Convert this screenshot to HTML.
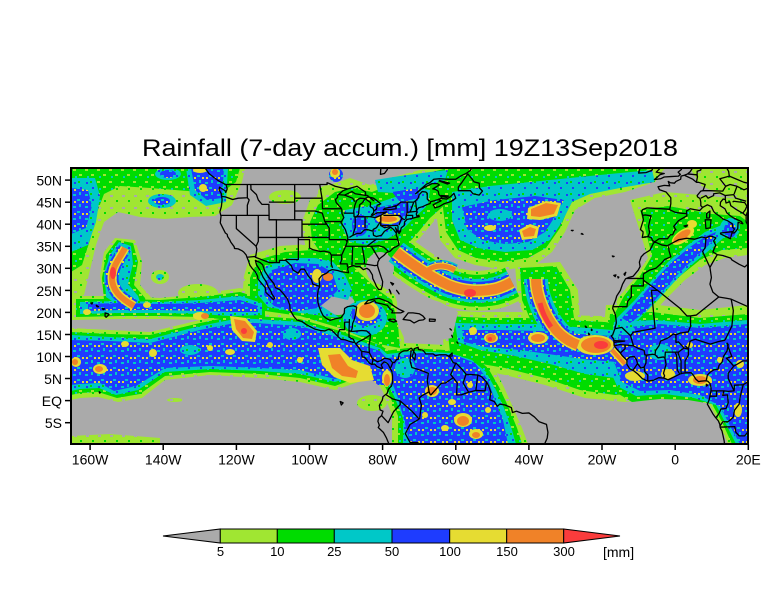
<!DOCTYPE html>
<html><head><meta charset="utf-8">
<style>
html,body{margin:0;padding:0;background:#fff;}
svg{display:block;}
.c polyline,.c polygon{vector-effect:non-scaling-stroke;fill:none;stroke:#000;stroke-width:1.3;stroke-linejoin:round;}
.t{font-family:"Liberation Sans",sans-serif;fill:#000;}
</style></head>
<body>
<svg width="784" height="612" viewBox="0 0 784 612" xmlns="http://www.w3.org/2000/svg">
<defs>
<clipPath id="cp"><rect x="71" y="168" width="677" height="276"/></clipPath>
<pattern id="pB" width="12" height="12" patternUnits="userSpaceOnUse">
<rect width="12" height="12" fill="#1e3cff"/>
<rect x="1" y="2" width="3" height="2" fill="#00c8c8"/>
<rect x="7" y="0" width="2" height="3" fill="#00c8c8"/>
<rect x="5" y="7" width="3" height="2" fill="#00c8c8"/>
<rect x="10" y="9" width="2" height="2" fill="#e6dc32"/>
<rect x="2" y="9" width="2" height="2" fill="#e6dc32"/>
</pattern>
<pattern id="pG" width="12" height="12" patternUnits="userSpaceOnUse">
<rect width="12" height="12" fill="#00dc00"/>
<rect x="1" y="1" width="3" height="2" fill="#a0e632"/>
<rect x="7" y="6" width="3" height="2" fill="#a0e632"/>
<rect x="3" y="8" width="2" height="2" fill="#00c8c8"/>
</pattern>
<pattern id="pC" width="12" height="12" patternUnits="userSpaceOnUse">
<rect width="12" height="12" fill="#00c8c8"/>
<rect x="2" y="2" width="2" height="2" fill="#1e3cff"/>
<rect x="8" y="7" width="2" height="2" fill="#1e3cff"/>
<rect x="6" y="1" width="2" height="2" fill="#00dc00"/>
</pattern>
<pattern id="pL" width="12" height="12" patternUnits="userSpaceOnUse">
<rect width="12" height="12" fill="#a0e632"/>
<rect x="2" y="3" width="3" height="2" fill="#aaaaaa"/>
<rect x="8" y="8" width="2" height="2" fill="#00dc00"/>
</pattern>
</defs>
<rect width="784" height="612" fill="#fff"/>
<text class="t" x="142" y="156" font-size="24" textLength="536" lengthAdjust="spacingAndGlyphs">Rainfall (7-day accum.) [mm] 19Z13Sep2018</text>
<g clip-path="url(#cp)">
<rect x="71" y="168" width="677" height="276" fill="#aaaaaa"/>

<!-- LIGHT GREEN -->
<g fill="url(#pL)">
<path d="M71,168 L245,168 L242,182 L232,205 L215,216 L190,217 L165,219 L140,217 L118,212 L104,222 L96,245 L90,270 L84,295 L71,300 Z"/>
<path d="M115,238 L135,240 L142,262 L140,285 L150,296 L155,305 L125,300 L104,296 L100,275 L104,252 Z"/>
<path d="M72,296 L120,296 L160,298 L200,294 L240,288 L270,296 L270,320 L230,324 L200,320 L160,319 L120,319 L72,320 Z"/>
<ellipse cx="160" cy="277" rx="9" ry="7"/>
<ellipse cx="198" cy="293" rx="20" ry="9"/>
<path d="M71,328 L110,330 L150,332 L200,320 L240,312 L300,316 L340,328 L380,342 L405,356 L400,374 L370,378 L335,390 L300,382 L260,378 L210,375 L165,380 L142,398 L118,402 L98,397 L80,398 L71,400 Z"/>
<path d="M250,255 L280,246 L310,244 L330,246 L350,255 L365,268 L380,285 L395,295 L402,320 L405,350 L380,348 L340,330 L300,318 L262,314 L242,300 L244,276 Z"/>
<path d="M310,200 L330,185 L350,178 L370,185 L390,178 L420,170 L450,168 L470,168 L470,190 L455,205 L435,220 L420,238 L405,250 L395,262 L380,270 L360,275 L335,272 L315,262 L305,245 L302,222 Z"/>
<path d="M440,168 L665,168 L655,182 L625,192 L595,198 L575,210 L565,232 L552,252 L535,265 L505,270 L475,265 L455,258 L440,240 L435,205 Z"/>
<path d="M515,265 L560,262 L578,290 L580,320 L590,335 L560,340 L530,330 L518,300 Z"/>
<path d="M440,310 L480,312 L520,312 L560,315 L600,316 L630,318 L655,335 L660,365 L660,398 L625,402 L585,398 L545,385 L505,375 L470,368 L445,360 Z"/>
<path d="M606,305 L650,304 L700,310 L748,305 L748,444 L728,444 L718,420 L708,402 L685,398 L660,397 L630,400 L610,392 L600,370 Z"/>
<path d="M370,348 L405,343 L445,345 L475,350 L492,365 L503,385 L512,405 L522,428 L528,444 L392,444 L392,415 L383,392 L372,372 Z"/>
<path d="M630,200 L665,192 L700,195 L748,200 L748,255 L725,258 L705,265 L685,280 L665,300 L645,322 L622,330 L610,318 L618,298 L635,278 L648,258 L640,232 Z"/>
<path d="M690,168 L748,168 L748,200 L720,195 L700,185 Z"/>
<ellipse cx="372" cy="403" rx="15" ry="8"/>
<path d="M71,436 L110,434 L160,438 L160,444 L71,444 Z"/>
<ellipse cx="175" cy="400" rx="8" ry="2"/>
<ellipse cx="420" cy="322" rx="14" ry="7"/>
<path d="M396,252 C410,263 428,276 448,285 C465,292 480,292 495,289 C503,287 508,284 512,282" stroke="url(#pL)" stroke-width="40" fill="none"/>
<ellipse cx="285" cy="197" rx="16" ry="7"/>
<ellipse cx="330" cy="192" rx="12" ry="7"/>
</g>

<!-- GREEN -->
<g fill="url(#pG)">
<path d="M71,168 L240,168 L236,182 L225,190 L200,192 L175,190 L150,188 L120,186 L104,194 L96,215 L90,240 L82,265 L71,272 Z"/>
<path d="M117,240 L133,243 L138,262 L134,285 L145,298 L148,310 L120,306 L104,300 L102,278 L106,255 Z"/>
<path d="M76,299 L120,299 L160,300 L200,297 L240,292 L265,300 L265,317 L230,320 L200,317 L160,316 L120,316 L76,317 Z"/>
<path d="M71,332 L110,334 L150,335 L200,323 L240,315 L300,319 L340,331 L380,345 L400,358 L395,370 L368,374 L335,386 L300,378 L260,374 L210,372 L165,376 L140,394 L117,398 L98,392 L80,393 L71,395 Z"/>
<path d="M258,260 L285,252 L312,250 L332,252 L348,262 L362,275 L378,290 L392,300 L398,325 L400,348 L378,344 L340,328 L300,316 L265,311 L250,298 L250,278 Z"/>
<path d="M318,205 L335,192 L352,188 L372,192 L392,184 L420,175 L448,168 L465,168 L462,188 L448,202 L430,218 L415,236 L402,250 L390,260 L375,266 L357,268 L338,265 L322,255 L312,240 L310,222 Z"/>
<path d="M445,168 L648,168 L640,178 L612,186 L585,192 L570,204 L560,228 L546,248 L528,258 L502,262 L476,258 L458,250 L446,232 L442,200 Z"/>
<path d="M520,268 L556,266 L570,290 L574,318 L584,332 L560,337 L534,328 L522,300 Z"/>
<path d="M446,316 L485,318 L525,318 L565,320 L605,322 L628,326 L648,340 L652,368 L645,392 L615,395 L580,390 L545,378 L505,368 L470,362 L450,352 Z"/>
<path d="M610,314 L652,312 L700,318 L748,314 L748,444 L732,444 L722,422 L712,404 L688,400 L660,399 L632,402 L612,390 L604,368 Z"/>
<path d="M376,352 L408,348 L445,350 L472,355 L488,368 L499,387 L508,406 L517,428 L522,444 L398,444 L398,416 L389,394 L378,374 Z"/>
<path d="M640,210 L668,206 L690,210 L712,214 L740,216 L748,222 L748,248 L722,250 L700,260 L680,276 L660,296 L642,316 L625,325 L614,315 L624,296 L640,276 L652,256 L646,232 Z"/>
<path d="M396,252 C410,263 428,276 448,285 C465,292 480,292 495,289 C503,287 508,284 512,282" stroke="url(#pG)" stroke-width="32" fill="none"/>
</g>

<!-- GREY CLEARINGS -->
<g fill="#aaaaaa">
<ellipse cx="380" cy="268" rx="14" ry="16"/>
<ellipse cx="338" cy="304" rx="17" ry="11"/>
<path d="M398,292 L420,296 L440,302 L458,312 L452,338 L430,342 L405,340 L396,320 Z"/>
<ellipse cx="700" cy="302" rx="30" ry="6"/>
<ellipse cx="122" cy="222" rx="14" ry="8"/>
</g>

<!-- CYAN -->
<g fill="url(#pC)">
<path d="M71,178 L95,178 L100,196 L96,222 L88,245 L71,252 Z"/>
<ellipse cx="168" cy="174" rx="13" ry="6"/>
<ellipse cx="162" cy="201" rx="14" ry="7"/>
<ellipse cx="160" cy="277" rx="4" ry="3"/>
<path d="M186,168 L228,168 L226,202 L206,206 L190,195 Z"/>
<path d="M119,242 L131,246 L133,264 L128,284 L138,296 L142,308 L118,305 L106,297 L105,277 L109,256 Z"/>
<path d="M80,302 L120,301 L160,302 L200,300 L240,296 L262,303 L262,315 L230,316 L200,314 L160,313 L120,313 L80,314 Z"/>
<path d="M71,335 L110,337 L150,339 L200,326 L240,318 L300,322 L340,334 L380,348 L394,360 L390,368 L365,372 L335,382 L300,374 L260,371 L210,369 L165,372 L138,390 L116,395 L99,388 L80,389 L71,391 Z"/>
<path d="M266,266 L290,258 L315,258 L333,262 L345,275 L352,290 L348,300 L330,296 L320,305 L340,318 L300,313 L268,307 L258,295 L258,280 Z"/>
<path d="M345,210 L372,205 L398,196 L418,188 L430,190 L428,205 L412,220 L400,232 L385,240 L368,245 L350,242 L342,228 Z"/>
<path d="M375,180 L400,176 L430,172 L448,170 L445,180 L420,188 L395,193 L378,192 Z"/>
<path d="M452,192 L490,186 L530,182 L570,178 L610,174 L652,170 L655,182 L620,188 L590,194 L572,202 L562,222 L550,240 L532,250 L505,252 L478,248 L460,240 L452,220 Z"/>
<path d="M455,323 L495,324 L535,324 L575,327 L612,330 L630,340 L632,365 L615,378 L585,374 L550,364 L515,356 L480,350 L458,342 Z"/>
<path d="M614,322 L655,320 L700,324 L748,320 L748,444 L736,444 L726,424 L716,405 L694,398 L665,394 L636,396 L617,386 L608,366 Z"/>
<path d="M380,355 L412,351 L450,353 L472,360 L486,372 L496,390 L504,408 L512,430 L516,444 L403,444 L403,418 L394,396 L383,375 Z"/>
<path d="M615,320 L635,300 L652,280 L668,262 L688,245 L705,232 L722,225 L730,232 L712,248 L695,262 L676,280 L658,300 L638,320 L622,328 Z"/>
<ellipse cx="730" cy="228" rx="10" ry="10"/>
<ellipse cx="365" cy="318" rx="22" ry="18"/>
<ellipse cx="318" cy="275" rx="14" ry="14"/>
<path d="M396,252 C410,263 428,276 448,285 C465,292 480,292 495,289 C503,287 508,284 512,282" stroke="url(#pC)" stroke-width="24" fill="none"/>
<path d="M428,270 Q440,262 455,270" stroke="url(#pC)" stroke-width="12" fill="none"/>
<path d="M536,279 C536,295 544,315 556,330 C563,338 570,342 578,345" stroke="url(#pC)" stroke-width="24" fill="none"/>
<path d="M125,248 C120,258 112,266 112,278 C112,290 120,298 134,306" stroke="url(#pC)" stroke-width="16" fill="none"/>
</g>

<!-- BLUE -->
<g fill="url(#pB)">
<path d="M71,188 L88,190 L92,206 L86,228 L71,234 Z"/>
<ellipse cx="168" cy="174" rx="8" ry="4"/>
<ellipse cx="162" cy="201" rx="8" ry="4"/>
<path d="M191,168 L224,168 L222,198 L207,200 L195,190 Z"/>
<path d="M88,304 L120,303 L160,304 L200,303 L240,300 L258,306 L258,312 L230,312 L200,311 L160,310 L120,310 L88,311 Z"/>
<path d="M71,340 L110,341 L150,343 L200,330 L240,322 L300,326 L340,338 L380,351 L390,362 L365,369 L335,379 L300,370 L260,368 L210,366 L165,368 L136,386 L114,391 L100,383 L80,384 L71,385 Z"/>
<path d="M272,270 L295,263 L318,264 L332,272 L338,290 L328,300 L318,308 L292,312 L274,306 L264,295 L265,280 Z"/>
<ellipse cx="360" cy="225" rx="8" ry="11"/>
<path d="M375,208 L395,204 L408,200 L410,212 L400,224 L385,228 L375,222 Z"/>
<path d="M392,192 L418,188 L420,198 L400,202 Z"/>
<ellipse cx="336" cy="175" rx="7" ry="7"/>
<path d="M462,207 L495,200 L535,196 L564,200 L556,215 L545,232 L528,242 L505,244 L482,240 L467,229 Z"/>
<path d="M462,330 L500,330 L540,331 L580,334 L612,336 L625,348 L618,362 L590,360 L555,355 L520,350 L485,347 L464,342 Z"/>
<path d="M620,328 L660,324 L700,328 L748,324 L748,444 L740,444 L730,426 L720,406 L700,395 L670,390 L640,391 L622,382 L614,362 Z"/>
<path d="M388,358 L420,353 L455,355 L475,363 L488,380 L495,400 L503,420 L508,444 L410,444 L404,420 L398,398 L392,382 Z"/>
<path d="M370,358 L390,360 L392,385 L378,385 L370,378 Z"/>
<path d="M622,318 L640,298 L656,279 L672,262 L690,247 L706,236 L716,232 L712,242 L698,255 L680,272 L662,292 L645,312 L630,323 Z"/>
<ellipse cx="730" cy="230" rx="6" ry="8"/>
<ellipse cx="366" cy="314" rx="15" ry="12"/>
<ellipse cx="318" cy="278" rx="9" ry="11"/>
<path d="M396,252 C410,263 428,276 448,285 C465,292 480,292 495,289 C503,287 508,284 512,282" stroke="url(#pB)" stroke-width="18" fill="none"/>
<path d="M428,270 Q440,262 455,270" stroke="url(#pB)" stroke-width="9" fill="none"/>
<path d="M536,279 C536,295 544,315 556,330 C563,338 570,342 578,345" stroke="url(#pB)" stroke-width="18" fill="none"/>
<path d="M125,248 C120,258 112,266 112,278 C112,290 120,298 134,306" stroke="url(#pB)" stroke-width="13" fill="none"/>
</g>

<!-- partial lighter patches inside blue -->
<g fill="url(#pC)">
<ellipse cx="660" cy="352" rx="12" ry="8"/>
<ellipse cx="625" cy="330" rx="10" ry="5"/>
<ellipse cx="292" cy="334" rx="9" ry="6"/>
<ellipse cx="405" cy="368" rx="10" ry="10"/>
<ellipse cx="190" cy="350" rx="10" ry="5"/>
<ellipse cx="500" cy="215" rx="12" ry="6"/>
</g>

<!-- YELLOW -->
<g fill="#e6dc32">
<ellipse cx="203" cy="188" rx="4" ry="4"/>
<ellipse cx="200" cy="170" rx="7" ry="3"/>
<ellipse cx="87" cy="312" rx="4" ry="3"/>
<ellipse cx="147" cy="305" rx="4" ry="3"/>
<ellipse cx="200" cy="316" rx="7" ry="4"/>
<ellipse cx="76" cy="362" rx="5" ry="5"/>
<ellipse cx="100" cy="369" rx="7" ry="5"/>
<ellipse cx="125" cy="344" rx="4" ry="3"/>
<ellipse cx="153" cy="353" rx="4" ry="4"/>
<ellipse cx="210" cy="348" rx="3" ry="3"/>
<ellipse cx="230" cy="352" rx="5" ry="3"/>
<ellipse cx="270" cy="345" rx="3" ry="3"/>
<ellipse cx="300" cy="360" rx="3" ry="3"/>
<path d="M230,316 L246,318 L257,331 L255,342 L242,341 L232,330 Z"/>
<path d="M318,348 L340,348 L352,360 L370,366 L374,380 L350,383 L334,377 L322,365 Z"/>
<ellipse cx="367" cy="311" rx="12" ry="10"/>
<ellipse cx="317" cy="276" rx="5" ry="7"/>
<ellipse cx="388" cy="219" rx="12" ry="5"/>
<ellipse cx="335" cy="173" rx="5" ry="5"/>
<ellipse cx="490" cy="228" rx="6" ry="3"/>
<path d="M528,208 L546,201 L561,203 L557,216 L540,220 L527,219 Z"/>
<path d="M519,230 L530,224 L539,227 L537,238 L522,240 Z"/>
<ellipse cx="595" cy="345" rx="19" ry="10"/>
<ellipse cx="491" cy="338" rx="7" ry="5"/>
<ellipse cx="538" cy="338" rx="10" ry="6"/>
<ellipse cx="473" cy="331" rx="4" ry="4"/>
<ellipse cx="683" cy="236" rx="13" ry="6" transform="rotate(-35 683 236)"/>
<ellipse cx="692" cy="224" rx="5" ry="4"/>
<ellipse cx="700" cy="380" rx="12" ry="6"/>
<ellipse cx="668" cy="374" rx="7" ry="5"/>
<ellipse cx="635" cy="376" rx="10" ry="5"/>
<ellipse cx="740" cy="364" rx="4" ry="4"/>
<ellipse cx="738" cy="410" rx="4" ry="7"/>
<ellipse cx="720" cy="360" rx="3" ry="3"/>
<ellipse cx="690" cy="345" rx="3" ry="3"/>
<ellipse cx="432" cy="391" rx="7" ry="6"/>
<ellipse cx="387" cy="378" rx="5" ry="8"/>
<ellipse cx="463" cy="420" rx="9" ry="7"/>
<ellipse cx="476" cy="434" rx="7" ry="5"/>
<ellipse cx="445" cy="428" rx="4" ry="3"/>
<ellipse cx="425" cy="415" rx="3" ry="3"/>
<ellipse cx="452" cy="402" rx="4" ry="3"/>
<ellipse cx="470" cy="385" rx="3" ry="3"/>
<ellipse cx="488" cy="410" rx="3" ry="3"/>
<path d="M396,252 C410,263 428,276 448,285 C465,292 480,292 495,289 C503,287 508,284 512,282" stroke="#e6dc32" stroke-width="13" fill="none"/>
<path d="M428,270 Q440,262 455,270" stroke="#e6dc32" stroke-width="7" fill="none"/>
<path d="M536,279 C536,295 544,315 556,330 C563,338 570,342 578,345" stroke="#e6dc32" stroke-width="13" fill="none"/>
<path d="M125,248 C120,258 112,266 112,278 C112,290 120,298 134,306" stroke="#e6dc32" stroke-width="9" fill="none"/>
<path d="M612,350 L625,364" stroke="#e6dc32" stroke-width="7" fill="none"/>
</g>

<!-- ORANGE -->
<g fill="#f08228">
<ellipse cx="75" cy="362" rx="3" ry="3"/>
<ellipse cx="99" cy="369" rx="4" ry="3"/>
<path d="M234,319 L245,321 L254,332 L252,339 L243,338 L236,329 Z"/>
<path d="M328,355 L340,354 L348,366 L358,371 L356,378 L342,376 L332,368 Z"/>
<ellipse cx="367" cy="311" rx="8" ry="7"/>
<ellipse cx="328" cy="277" rx="5" ry="4"/>
<ellipse cx="388" cy="219" rx="9" ry="3"/>
<ellipse cx="335" cy="172" rx="3" ry="3"/>
<path d="M531,209 L546,203 L558,205 L554,214 L540,217 L531,216 Z"/>
<path d="M522,231 L530,227 L536,229 L534,236 L524,237 Z"/>
<ellipse cx="596" cy="345" rx="15" ry="8"/>
<ellipse cx="491" cy="338" rx="5" ry="4"/>
<ellipse cx="538" cy="338" rx="7" ry="4"/>
<ellipse cx="682" cy="236" rx="10" ry="4" transform="rotate(-35 682 236)"/>
<ellipse cx="700" cy="380" rx="7" ry="4"/>
<ellipse cx="432" cy="391" rx="5" ry="4"/>
<ellipse cx="387" cy="380" rx="3" ry="6"/>
<ellipse cx="463" cy="421" rx="6" ry="5"/>
<ellipse cx="476" cy="435" rx="4" ry="3"/>
<ellipse cx="205" cy="316" rx="4" ry="3"/>
<path d="M396,252 C410,263 428,276 448,285 C465,292 480,292 495,289 C503,287 508,284 512,282" stroke="#f08228" stroke-width="10" fill="none"/>
<path d="M428,270 Q440,262 455,270" stroke="#f08228" stroke-width="5" fill="none"/>
<path d="M536,279 C536,295 544,315 556,330 C563,338 570,342 578,345" stroke="#f08228" stroke-width="10" fill="none"/>
<path d="M125,248 C120,258 112,266 112,278 C112,290 120,298 134,306" stroke="#f08228" stroke-width="6" fill="none"/>
<path d="M612,350 L625,364" stroke="#f08228" stroke-width="4" fill="none"/>
</g>

<!-- RED -->
<g fill="#fa3c3c">
<ellipse cx="113" cy="273" rx="3" ry="6"/>
<ellipse cx="470" cy="293" rx="6" ry="4"/>
<ellipse cx="601" cy="345" rx="7" ry="4"/>
<ellipse cx="244" cy="331" rx="3" ry="3"/>
<path d="M540,303 C542,312 546,320 551,327" stroke="#fa3c3c" stroke-width="5" fill="none"/>
<ellipse cx="490" cy="339" rx="2" ry="2"/>
</g>

<!-- COASTLINES & BORDERS -->
<g class="c" transform="matrix(3.657,0,0,-4.41,675.2,400.6)">
<polyline points="-128.5,52.7 -127.5,51.5 -126,50.5 -124.8,49.8 -123.2,49.1 -122.8,48.9 -122.5,48 -122.9,47.2 -123.1,47.6 -124.6,48.4 -124.7,47.8 -124.1,46.9 -124,46.2 -123.9,45.5 -124.1,44 -124.5,42.8 -124.2,41.8 -124.4,40.3 -123.8,39.3 -123,38 -122.5,37.7 -122.4,37.2 -121.9,36.6 -121.5,35.9 -120.6,34.9 -120.5,34.5 -119.5,34.4 -118.5,34 -118,33.7 -117.3,33 -117.1,32.5 -116.7,31.7 -116.3,30.7 -115.7,30 -114.8,29.2 -114.2,28.2 -114.1,27.6 -113,26.5 -112.1,25.6 -111.9,24.5 -110.6,23.5 -109.9,22.9 -109.5,23.2 -110.3,24.2 -110.6,24.9 -111.3,25.8 -111.8,26.9 -112.7,28 -113.5,29.5 -114.5,30.8 -114.8,31.8 -113.5,31.3 -112.8,30.8 -112.2,29.3 -111.1,27.9 -109.8,26.6 -109.3,25.6 -108.2,25.2 -107.2,24.3 -106,23 -105.4,21.7 -105.3,20.5 -104.3,19.1 -103.5,18.3 -102,17.9 -101,17.3 -99.9,16.8 -98.5,16.2 -97,15.9 -95.8,15.8 -94.7,16.2 -93.8,15.9 -92.2,14.5 -91.4,13.9 -90.3,13.8 -89.3,13.5 -88,13.2 -87.7,13.3 -87.4,12.9 -86.7,12.2 -85.7,11.1 -85.7,10.4 -85.6,9.9 -84.9,9.8 -84.6,9.5 -83.6,8.5 -83,8.2 -82.2,8.3 -81.5,7.7 -80.4,7.3 -80,7.4 -80.4,8.1 -79.6,8.8 -78.8,8.5 -78.4,8.1 -77.9,7.2 -77.5,6.7 -77.3,5.6 -77.3,4.1 -77.6,3.3 -78.4,2.6 -78.8,1.6 -79.9,0.9 -80.1,0.1 -80.4,-0.3 -80.9,-1.1 -80.7,-2.1 -79.9,-2.4 -80.3,-3.4 -81.1,-4 -81.3,-4.7 -80.9,-5.6 -81.2,-6.1 -79.8,-7.2 -79,-8.4 -78.2,-10"/>
<polyline points="-35.8,-10 -35,-8.5 -34.8,-7.2 -35.2,-5.4 -37.2,-4.8 -38.5,-3.7 -40,-2.8 -41.8,-2.9 -43.4,-2.4 -44.5,-2.7 -44.8,-1.6 -46.5,-1 -48,-0.8 -48.6,-1.3 -49.5,-0.2 -50.7,0.2 -50.4,1.9 -51.1,3.5 -51.6,4.2 -52.9,5.4 -54,5.8 -55.9,5.9 -57.1,5.9 -58,6.8 -58.5,7.3 -59.8,8.4 -60.7,8.6 -61.6,9.9 -62.7,10.4 -64.3,10.4 -65.6,10.2 -66.2,10.6 -68.2,10.6 -68.9,11.4 -70.2,11.6 -70.3,12.1 -71.3,11.8 -71.6,10.9 -71.9,10 -71.2,9.2 -71,10.5 -71.9,11.6 -72.2,11.9 -73.3,11.3 -74.2,11.3 -74.9,11 -75.5,10.6 -75.7,9.4 -76.2,9.3 -76.8,8.6 -77.4,8.7 -77.9,9.3 -78.6,9.5 -79.5,9.6 -80.4,9.1 -81.4,8.8 -82.2,9.2 -82.8,9.5 -83.6,10.8 -83.7,11.6 -83.7,12.7 -83.5,13.6 -83.3,15 -84.4,15.8 -85.7,15.9 -86.8,15.8 -88.1,15.7 -88.6,15.7 -88.3,16.5 -88.2,17.5 -87.8,18.3 -87.4,19.5 -87.1,21.2 -88,21.5 -89.6,21.3 -90.4,20.9 -90.5,19.8 -91.4,18.8 -92.8,18.6 -94.4,18.2 -95.5,18.7 -96.3,19.3 -96.9,20.3 -97.4,21.4 -97.7,22.3 -97.8,24 -97.6,25.1 -97.2,25.9 -97.3,26.7 -97.4,27.6 -96.6,28.4 -95.3,28.9 -94.7,29.4 -93.8,29.7 -92.3,29.5 -91.1,29.2 -90.2,29.1 -89.3,29 -89.6,29.9 -89.2,30.3 -88,30.6 -87.2,30.4 -86.3,30.4 -85.3,29.7 -84.3,30 -83.6,29.6 -82.8,28.5 -82.7,27.7 -82.1,26.7 -81.7,25.9 -81.1,25.2 -80.4,25.2 -80.1,26 -80,27 -80.6,28.5 -81,29.5 -81.4,30.6 -81.3,31.4 -80.8,32.2 -79.7,32.9 -78.9,33.6 -77.9,33.9 -77.1,34.6 -76.3,34.9 -75.5,35.3 -75.8,36.3 -76,37 -76.3,37.5 -76.2,38.5 -76.5,39.2 -75.9,38.3 -75.5,37.9 -75.1,38.4 -75,38.9 -74.9,39.2 -74.1,39.7 -74,40.5 -73.3,41.1 -72,41.3 -71.2,41.5 -70.6,41.6 -70,41.7 -70.1,42 -70.6,41.8 -70.8,42.3 -70.6,42.7 -70.7,43.1 -70.2,43.7 -69,44 -68,44.4 -67,44.7 -66.9,45.1 -66,45.3 -64.8,45.6 -64.2,45.8 -63.8,46.1 -64.6,46.7 -64.8,47.5 -65.6,47.9 -66.3,48 -64.5,48.9 -65,49.2 -66.5,49.2 -68,48.6 -69.5,47.9 -70.5,47.2 -71,46.9 -69.2,48.2 -68,49.1 -67.1,49.4 -66,50.2 -64.5,50.3 -62,50.2 -60,50.2 -58.5,51 -57.2,51.5 -56,52.2 -55.7,52.7"/>
<polygon points="-64.8,45.6 -64,45.3 -65.5,44.7 -66.2,44.4 -65.7,43.7 -64.5,44 -63.3,44.6 -61.5,45.1 -61,45.3 -60,45.9 -60.5,47 -61.5,46.2 -62.5,45.7 -63.5,45.8 -64.2,45.8"/>
<polygon points="-59.3,47.6 -58,47.6 -56,47.6 -55.3,46.9 -53.6,46.6 -52.7,47.5 -53.5,48.2 -53.6,49.3 -55,49.6 -55.6,50.3 -56.7,51.4 -57.3,50.7 -58.3,49.5 -59.3,48.4"/>
<polygon points="-64,46.5 -62,46.4 -62.5,46.1 -64,46.3"/>
<polygon points="-64.5,49.9 -61.7,49.3 -62.3,49.1 -64.5,49.8"/>
<polygon points="-92.1,46.7 -90.4,46.6 -88.4,47.4 -87.5,46.9 -86,46.7 -84.6,46.5 -84.7,47.3 -85.8,47.9 -87,48.6 -88.3,48.3 -89.5,48 -90.8,47.6"/>
<polygon points="-87.8,41.7 -87.9,43 -87.6,44.3 -87.1,45.4 -86.2,45.9 -84.8,45.8 -85.5,44.9 -86.3,44.4 -86.5,43.1 -86.6,42.2 -87.2,41.6"/>
<polygon points="-84.8,45.8 -84,46.2 -82.5,45.9 -81.5,45.3 -80.5,44.6 -81.5,44.3 -81.7,43.4 -82.4,43 -82.6,43.6 -83.4,44 -83.3,44.9"/>
<polygon points="-83.4,41.7 -82,41.5 -80.5,42 -78.9,42.8 -80.1,42.6 -81.4,42.6 -82.8,42"/>
<polygon points="-79.8,43.3 -78,43.3 -76.3,43.5 -76.4,44.2 -77.5,43.9 -79.4,43.6"/>
<polyline points="-80.5,52.7 -80.6,51.3 -79.5,51.5 -78.8,52.3 -78.6,52.7"/>
<polygon points="-84.9,21.9 -84,22.7 -82.5,23 -81,23.2 -80,22.9 -78.5,22.4 -77.5,21.8 -76.5,21.2 -75.5,20.7 -74.2,20.2 -75,19.9 -77.5,19.9 -77.2,20.4 -78,20.8 -78.7,21.6 -80.5,22 -81.8,22.2 -82.2,22.7 -83.4,22.2"/>
<polygon points="-74.4,18.4 -73,19.9 -71.7,19.9 -70,19.7 -69,19.2 -68.4,18.6 -68.9,18.3 -70,18.2 -71.4,17.6 -72.5,18.2"/>
<polygon points="-78.3,18.4 -77,18.5 -76.2,18 -77,17.8 -78.3,18.2"/>
<polygon points="-67.2,18.5 -65.6,18.4 -65.7,18 -67.2,18"/>
<polygon points="-61.9,10.1 -61,10.8 -61,10.1"/>
<polygon points="-77.8,26.8 -77,26.5 -77.3,26.2"/>
<polygon points="-78.2,25.2 -77.7,24.2 -77.9,24.8"/>
<polygon points="-76.2,25 -75.5,24.2 -75.8,24.6"/>
<polygon points="-61.6,16.3 -61.2,16 -61.4,16.1"/>
<polygon points="-61.1,14.8 -60.9,14.4 -61,14.6"/>
<polygon points="-59.7,13.3 -59.4,13 -59.5,13.1"/>
<polygon points="-91.6,-0.2 -90.8,-0.5 -91.3,-1"/>
<polygon points="-155.9,19.9 -155.1,19.7 -154.8,19.5 -155.6,18.9 -155.9,19.1"/>
<polygon points="-156.7,20.9 -156,20.8 -156.4,20.6"/>
<polygon points="-158.3,21.6 -157.7,21.3 -158.1,21.3"/>
<polygon points="-159.8,22.1 -159.3,22.2 -159.5,21.9"/>
<polygon points="-157.5,2 -157.2,1.8 -157.4,1.7"/>
<polygon points="-64.9,32.4 -64.7,32.3 -64.8,32.2"/>
<polygon points="-25.7,37.8 -25.2,37.7 -25.5,37.9"/>
<polygon points="-28.4,38.6 -27.9,38.6 -28.1,38.5"/>
<polygon points="-17.2,32.8 -16.7,32.7 -17,32.6"/>
<polygon points="-15.7,28.1 -15.4,28 -15.6,27.8"/>
<polygon points="-16.8,28.4 -16.2,28.5 -16.4,28.1"/>
<polygon points="-14,28.7 -13.5,29.1 -13.8,28.4"/>
<polygon points="-23.7,15.3 -23.4,15 -23.6,14.9"/>
<polygon points="-24.6,16.9 -24.2,16.6 -24.4,16.6"/>
<polygon points="-22.9,16.2 -22.7,16 -22.9,15.9"/>
<polygon points="8.5,3.7 8.9,3.5 8.6,3.3"/>
<polyline points="-4.1,52.7 -5.2,51.8 -4,51.6 -3,51.5 -4.2,51.2 -5.7,50.1 -4,50.3 -3,50.7 -1.2,50.8 0.9,50.9 1.4,51.3 0.8,51.8 1.7,52.4 1.7,52.7"/>
<polyline points="-6.1,52.7 -6.4,52.2 -8,51.7 -10,51.6 -9.8,52.3 -9.6,52.7"/>
<polyline points="4.7,52.7 4.1,51.9 3.4,51.4 2.5,51.1 1.6,50.9 1.5,50.2 0.2,49.7 -0.2,49.3 -1.3,49.4 -1.9,49.7 -1.5,48.7 -3,48.8 -4.7,48.5 -4.3,47.8 -2.5,47.3 -2,46.8 -1.2,46 -1.2,44.6 -1.5,43.4 -1.8,43.4 -3.8,43.5 -5.8,43.6 -7.7,43.7 -8.9,43.3 -9.2,42.9 -8.9,42 -8.7,41 -9.5,38.8 -8.8,38.3 -8.8,37.9 -9,37 -7.4,37.2 -6.5,36.9 -6.2,36.3 -5.6,36 -4.4,36.7 -2.1,36.7 -1.3,37.6 -0.7,37.6 -0.1,38.7 0.2,38.7 -0.4,39.5 0.9,40.8 3.2,41.9 3.1,43 4.1,43.5 5.3,43.3 6.7,43.1 7.5,43.8 8.8,44.4 9.9,44 10.5,42.9 11.1,42.4 12.2,41.8 13,41.2 14.3,40.8 15.6,40.1 15.7,39.3 16.2,38.9 15.6,38 16.1,38 16.6,38.4 17.1,39 17.2,40.4 18.5,40.1 18.1,40.6 16,41.4 15.1,41.9 14.1,42.6 13.6,43.5 12.3,44.2 12.4,45 13.1,45.7 13.7,45.6 13.9,44.8 14.9,45.1 15.2,44.2 16.4,43.5 17.6,42.9 18.5,42.5 19.4,41.9 19.4,40.5 20,39.6"/>
<polygon points="8.4,39 9.6,39.2 9.8,41 8.2,41"/>
<polygon points="8.6,41.4 9.4,41.4 9.5,43 8.6,42.4"/>
<polygon points="12.4,38 15.6,38.3 15.1,36.7 12.4,37.8"/>
<polygon points="2.4,39.6 3.4,39.8 2.9,39.4"/>
<polyline points="20,31 19,30.3 17.5,30.9 15.5,31.9 15.2,32.3 13,32.9 11.5,33.1 10.3,33.7 10.7,34.5 11.1,35.2 10.5,36.2 11.1,36.9 10.2,37.2 9.5,37.3 8.4,36.9 7.3,37.1 5.3,36.6 3.2,36.8 1,36.5 -0.6,35.8 -2.2,35.1 -3.7,35.3 -5.3,35.9 -5.9,35.8 -6.3,35.1 -6.9,34.1 -8.5,33.3 -9.3,32.6 -9.8,31.4 -9.6,30.4 -10.1,29.6 -11.5,28.2 -12.8,27.9 -13.6,27.6 -14.4,26.4 -15,25 -16,23.7 -16.3,22.8 -17,21.4 -17.1,20.9 -16.4,19.6 -16.2,18.6 -16.1,17.6 -16.5,16.3 -17.1,14.9 -17.5,14.7 -16.8,13.9 -16.7,12.5 -16,11.7 -15.1,10.9 -14.5,10.2 -13.2,9.1 -13.2,8.2 -12.4,7.2 -11.4,6.8 -10.2,6 -9,5 -7.5,4.4 -6,4.6 -4.5,5.2 -3,5.1 -2,4.7 -1,5.1 1,5.9 1.9,6.2 3,6.3 4.4,6.3 5.1,5.6 5.6,4.9 6.4,4.3 7,4.4 8.3,4.5 8.9,4.4 9.5,3.9 9.8,3 9.8,2.3 9.5,1.1 9.3,0.2 8.8,-0.8 9.4,-1.7 10.3,-3 11,-3.8 11.8,-4.6 12.2,-5.4 12.3,-6.1 12.8,-6.9 13.2,-8.4 13.4,-9.2 13.5,-10"/>
<polyline points="-123.3,49 -95.2,49 -95.2,49.4 -94.8,49.3 -93,48.6 -91,48.2 -89.6,48"/>
<polyline points="-84.5,46.5 -84.1,46.5 -83.6,46.1 -82.4,45.3"/>
<polyline points="-82.4,43 -82.5,42.6 -83.1,42.1"/>
<polyline points="-76.3,44.1 -75,45 -71.5,45 -71,45.3 -70.3,45.9 -70,46.7 -69.2,47.4 -68.2,47.3 -67.8,47 -67.8,45.7 -67.2,45.2"/>
<polyline points="-117.1,32.5 -114.7,32.7 -114.8,32.5 -111,31.3 -108.2,31.3 -108.2,31.8 -106.5,31.8 -105,30.6 -104.5,29.6 -103.1,28.9 -102.4,29.8 -101.4,29.8 -100.3,28.2 -99.5,27.5 -99.1,26.4 -97.2,25.9"/>
<polyline points="-124,46.3 -123,46.2 -121,45.6 -119.5,45.9 -117,46 -117,49"/>
<polyline points="-117,46 -116.5,45.5 -117,44.3 -117,42"/>
<polyline points="-124.2,42 -111,42"/>
<polyline points="-120,42 -120,39 -114.6,35"/>
<polyline points="-114,42 -114,37 -114,36.1 -114.6,35 -114.4,34.3 -114.7,32.7"/>
<polyline points="-116.05,49 -116,47.9 -114.5,46.7 -114,45.5 -113,44.5 -111.1,44.5 -111.05,42 -111.05,41 -109.05,41 -109.05,31.3"/>
<polyline points="-111.1,45 -104.05,45"/>
<polyline points="-111.05,41 -102.05,41 -102.05,37"/>
<polyline points="-104.05,49 -104.05,41"/>
<polyline points="-102.05,40 -95.3,40"/>
<polyline points="-114,37 -94.6,37"/>
<polyline points="-103.05,37 -103.05,32 -106.6,32"/>
<polyline points="-103,36.5 -100,36.5 -100,34.6 -99,34.2 -97,33.8 -96,33.9 -94.5,33.6"/>
<polyline points="-104.05,45.9 -96.6,45.9"/>
<polyline points="-104.05,43 -98.5,43 -96.5,42.5 -95.8,40.6 -95.3,40 -94.6,39.1 -94.6,36.5 -90.1,36.5 -89.7,36"/>
<polyline points="-97.2,49 -96.6,46 -96.5,45.3 -96.45,43.5 -91.2,43.5"/>
<polyline points="-95.8,40.6 -91.4,40.6"/>
<polyline points="-94.5,33.6 -94,33 -91.2,33"/>
<polyline points="-94,33 -94.05,31 -93.7,30.1"/>
<polyline points="-91.2,43.5 -91.1,42.4 -90.6,41.5 -91.4,40.4 -90.2,38.8 -89.5,37 -89.7,36 -90.1,35 -91.2,33 -91.2,32 -91.6,31 -89.7,31 -89.6,30.2"/>
<polyline points="-92.3,46.7 -92.3,46.1 -92.9,45.6 -92.7,44.9 -91.2,43.5"/>
<polyline points="-90.6,42.5 -87.8,42.5"/>
<polyline points="-90.4,46.6 -88.2,45.9 -87.6,45.1"/>
<polyline points="-87.5,41.7 -87.5,39.2 -88,38 -88.1,37.5"/>
<polyline points="-89.1,37 -88.1,37.5 -87,37.9 -86,37.9 -85,38.7 -84.2,38.8 -82.6,38.4 -82.6,38.8 -81.7,39.2 -80.6,40.6"/>
<polyline points="-84.8,41.7 -84.8,39.1"/>
<polyline points="-87.5,41.7 -83.5,41.7"/>
<polyline points="-80.5,42 -80.5,39.7 -75.8,39.7"/>
<polyline points="-79.8,42 -75.4,42 -75.1,41.8 -74.7,41.3 -73.9,41"/>
<polyline points="-73.3,45 -73.3,42.7 -73.5,42 -73.7,41.1"/>
<polyline points="-71.5,45 -72.5,42.7"/>
<polyline points="-73.3,42.7 -70.8,42.9"/>
<polyline points="-71,45.3 -70.7,43.1"/>
<polyline points="-73.5,42 -71.8,42 -71.8,41.3"/>
<polyline points="-89.5,36.5 -81.7,36.6 -75.9,36.55"/>
<polyline points="-81.7,36.6 -84.3,35"/>
<polyline points="-90.3,35 -84.3,35 -83.1,35 -81,35.1 -79.7,34.8 -78.5,33.9"/>
<polyline points="-83.1,35 -81,32.1"/>
<polyline points="-85.6,35 -85,32 -85,31"/>
<polyline points="-87.6,31 -85,31 -82.2,30.6 -81.4,30.7"/>
<polyline points="-88.2,35 -88.4,30.4"/>
<polyline points="-80.6,40.6 -80.5,39.7 -79.5,39.2 -78.3,39.4 -77.8,39.3 -79.5,38.4 -80.3,37.5 -81.7,37.2 -82.5,37.5 -82.6,38.2"/>
<polyline points="-75.8,39.7 -75.8,38.4 -75.1,38.4"/>
<polyline points="-77.8,39.3 -77,38.8 -76.3,38"/>
<polyline points="-74.7,41.3 -75.1,40.8 -75.5,39.8"/>
<polyline points="-92.2,14.5 -92.2,15.3 -91.7,16.1 -90.4,16.1 -90.4,17.8 -89.1,17.8 -89.1,18.5"/>
<polyline points="-89.1,17.8 -89.2,15.9 -88.6,15.7"/>
<polyline points="-89.2,15.9 -89.2,14.4 -88,13.9 -87.7,13.3"/>
<polyline points="-83.2,15 -85,14 -86.7,13.3 -87.3,12.9"/>
<polyline points="-85.7,11.2 -83.7,10.9"/>
<polyline points="-82.9,8.1 -82.6,9.6"/>
<polyline points="-77.2,8.7 -77.9,7.2"/>
<polyline points="-72.2,11.5 -72.5,9 -72,7.5 -70,7 -67.5,6.2 -67.8,4.5 -67.3,2 -66.9,1.2"/>
<polyline points="-79,1.3 -77.3,0.4 -75.2,-0.1 -73.5,-1.3 -72,-2.4 -70,-4.2"/>
<polyline points="-69.9,-4.2 -69.4,-1 -70,0.6 -69.3,1.1 -67.3,2"/>
<polyline points="-66.9,1.2 -64,3.9 -62.8,4 -60.7,5.2 -61.4,5.9 -60,8.5"/>
<polyline points="-57.2,6 -58,4 -56.5,1.9"/>
<polyline points="-54,5.7 -54.5,2.3"/>
<polyline points="-60.7,5.2 -59.6,4 -59.8,1.3 -58.5,1.3 -56.5,1.9 -54.5,2.3 -52,2.2 -51.6,4.2"/>
<polyline points="-80.3,-3.4 -78.5,-5 -77,-2.5 -75.2,-0.9 -75.2,-0.1"/>
<polyline points="-70,-4.2 -72.5,-5.4 -73.8,-7.5 -72.5,-9.5 -70.5,-9.5 -69.5,-10"/>
<polyline points="-8.9,42 -8.2,42.1 -6.6,41.9 -6.9,41 -7.3,39.5 -7,38.1 -7.4,37.2"/>
<polyline points="-1.8,43.4 0,42.7 1.5,42.5 3.2,42.4"/>
<polyline points="7.5,43.8 7,44.2 7,45 6.8,45.8 6.1,46.2 6,46.5 7,47.5 7.6,47.6 8.2,49 6.4,49.5 5.8,49.5 4.8,50.2 2.5,51.1"/>
<polyline points="3.4,51.4 5.9,51.2 6.1,50.8 5.8,49.5"/>
<polyline points="6,50.8 6,52 7,52.3 7.1,52.7"/>
<polyline points="7,45.9 8.4,46.5 9,45.9 10.5,46.5 10.5,47"/>
<polyline points="7.6,47.6 9.5,47.6 13,47.5 13.8,48.6 12.2,50.3 14.8,50.9 14.6,52 14.1,52.7"/>
<polyline points="10.5,46.9 12.2,47.1 13.7,46.5 13.7,45.6"/>
<polyline points="13.7,46.5 16,46.7 16.5,45.9 19.4,45.2"/>
<polyline points="15.7,45 16,45.2 19,44.9 19.6,44.1 19.2,43.3 18.5,42.5"/>
<polyline points="19.4,41.9 19.7,42.7 20,42.5"/>
<polyline points="13.8,48.6 15,49 16.9,48.6 18.8,47.8 20,48.2"/>
<polyline points="16.9,48.6 16.1,46.8"/>
<polyline points="14.8,50.9 16.5,50.3 18.8,49.5 20,49.3"/>
<polyline points="-1.8,35 -1.7,34 -1.2,32.6 -2.9,32 -3.7,31.2 -5.3,30 -7,29.6 -8.7,28.7 -8.7,27.7 -13.2,27.7"/>
<polyline points="-8.7,27.7 -8.7,26 -12,26 -12,23.5 -13,22.5 -13.2,21.3 -17,21.3"/>
<polyline points="-8.7,27.3 -4.8,25 -6.5,25 -5.5,16.4 -11.5,15.5 -12.2,14.7 -14.6,16.6 -16.5,16.3"/>
<polyline points="-4.8,25 1.2,21 3.2,19.2 4.2,19.2 5.8,19.4 11.9,23.5 10.3,24.6 9.5,26.4 9.9,27.9 9.5,30.2 10.3,31.4 11.5,33.1"/>
<polyline points="9.5,30.2 7.5,33.8 8.2,34.7 8.4,36.9"/>
<polyline points="11.9,23.5 14,23.2 15.3,23 19.9,21.3"/>
<polyline points="15.3,23 15.9,20.4 15.5,16.9 13.6,13.7"/>
<polyline points="4.2,19.2 4.2,16.9 3.6,15.6 1.3,15.3 0.2,14.9 0.2,13.2 0.9,13.3 2,12.3 2.4,11.9"/>
<polyline points="2.8,12.4 3.6,11.7 4.1,13.5 5.5,13.9 7.8,13.3 9.6,12.8 11.9,13.4 13.6,13.7"/>
<polyline points="2.4,11.9 3.6,11.7"/>
<polyline points="0.2,14.9 -0.5,15.1 -2,14.2 -4,13.5 -4.4,12.5 -5.4,11.3 -5.5,10.4"/>
<polyline points="-12.2,14.7 -11.4,12.4 -10,11.8 -8.5,11.4 -8.3,10.4 -7.9,10.3 -6.2,10.5 -5.5,10.4"/>
<polyline points="-5.5,10.4 -4.7,9.7 -3.2,9.9 -2.8,9.6 -2.7,11 0,11 0.9,11 1.5,11.4 2.4,11.9"/>
<polyline points="-3.2,5.1 -2.9,5.6 -3.2,6.2 -2.5,8.2 -2.8,9.6"/>
<polyline points="1.2,6.1 0.6,6.9 0.5,8.3 0.4,10.2 0,11"/>
<polyline points="1.6,6.2 1.6,9 0.8,10.7 0.9,11"/>
<polyline points="2.7,6.4 2.7,9 3.6,10.3 3.6,11.7"/>
<polyline points="8.5,4.6 8.8,5.8 9.5,6.4 10.6,7 11.7,7.1 12,8 12.8,8.7 13.2,10 14.2,11.3 14.5,12.7 14.1,13.1"/>
<polyline points="14.1,13.1 15,11 15.5,10 14,9.6 15.2,8.6 16,7.8 14.5,6.2 14.5,5 15.1,4 16.1,2.2"/>
<polyline points="16,7.8 18.5,9 20,9"/>
<polyline points="9.8,2.2 11.3,2.2 13.3,2.2 14.5,2.1 16.1,2.2 16.2,3.5 18.6,3.6 20,4.3"/>
<polyline points="11.3,2.2 11.3,1 9.4,1"/>
<polyline points="13.3,2.2 13,1.2 14.3,1.3 14.5,-0.5 13.9,-1.8 12.5,-1.9 12,-2.9 11.1,-3.9"/>
<polyline points="18.6,3.6 17.8,1 17.5,-0.8 16.2,-2.2 15.9,-3.7 15.2,-4.3 14.4,-4.8 13,-4.8 12.2,-5.8"/>
<polyline points="12.3,-6 13,-6 16.3,-5.9 16.6,-7.2 17.5,-8 19,-8 20,-7"/>
<polyline points="-13.3,9.2 -12.4,9.9 -11.2,10 -10.6,9.3 -10.3,8.4 -11.5,6.9"/>
<polyline points="-10.3,8.4 -9.4,7.4 -8.5,7.6 -8.3,6.5 -7.5,5.8 -7.5,4.4"/>
<polyline points="-8.5,7.6 -8,8.5 -7.9,10.3"/>
<polyline points="-16.7,12.4 -15.2,12.7 -13.7,12.6 -12.2,12.5 -11.4,12.4"/>
<polyline points="-13.7,12.6 -13.7,11.8 -15,10.8"/>
<polyline points="-16.8,13.6 -13.8,13.5 -16.6,13.2"/>
</g>
</g>

<rect x="71" y="168" width="677" height="276" fill="none" stroke="#000" stroke-width="2"/>

<g stroke="#000" stroke-width="1.5">
<line x1="65" y1="180.1" x2="71" y2="180.1"/><line x1="65" y1="202.2" x2="71" y2="202.2"/>
<line x1="65" y1="224.2" x2="71" y2="224.2"/><line x1="65" y1="246.3" x2="71" y2="246.3"/>
<line x1="65" y1="268.3" x2="71" y2="268.3"/><line x1="65" y1="290.4" x2="71" y2="290.4"/>
<line x1="65" y1="312.4" x2="71" y2="312.4"/><line x1="65" y1="334.5" x2="71" y2="334.5"/>
<line x1="65" y1="356.5" x2="71" y2="356.5"/><line x1="65" y1="378.5" x2="71" y2="378.5"/>
<line x1="65" y1="400.6" x2="71" y2="400.6"/><line x1="65" y1="422.7" x2="71" y2="422.7"/>
<line x1="90.1" y1="444" x2="90.1" y2="450"/><line x1="163.2" y1="444" x2="163.2" y2="450"/>
<line x1="236.4" y1="444" x2="236.4" y2="450"/><line x1="309.5" y1="444" x2="309.5" y2="450"/>
<line x1="382.6" y1="444" x2="382.6" y2="450"/><line x1="455.8" y1="444" x2="455.8" y2="450"/>
<line x1="528.9" y1="444" x2="528.9" y2="450"/><line x1="602" y1="444" x2="602" y2="450"/>
<line x1="675.2" y1="444" x2="675.2" y2="450"/><line x1="748.3" y1="444" x2="748.3" y2="450"/>
</g>
<g class="t" font-size="14" text-anchor="end">
<text x="62" y="185.5">50N</text><text x="62" y="207.6">45N</text><text x="62" y="229.6">40N</text>
<text x="62" y="251.7">35N</text><text x="62" y="273.7">30N</text><text x="62" y="295.8">25N</text>
<text x="62" y="317.8">20N</text><text x="62" y="339.9">15N</text><text x="62" y="361.9">10N</text>
<text x="62" y="383.9">5N</text><text x="62" y="406">EQ</text><text x="62" y="428.1">5S</text>
</g>
<g class="t" font-size="14" text-anchor="middle">
<text x="90.1" y="464.5">160W</text><text x="163.2" y="464.5">140W</text><text x="236.4" y="464.5">120W</text>
<text x="309.5" y="464.5">100W</text><text x="382.6" y="464.5">80W</text><text x="455.8" y="464.5">60W</text>
<text x="528.9" y="464.5">40W</text><text x="602" y="464.5">20W</text><text x="675.2" y="464.5">0</text>
<text x="748.3" y="464.5">20E</text>
</g>

<g stroke="#000" stroke-width="1">
<polygon points="163,536 220.3,529 220.3,543" fill="#aaaaaa"/>
<rect x="220.3" y="529" width="57" height="14" fill="#a0e632"/>
<rect x="277.3" y="529" width="57" height="14" fill="#00dc00"/>
<rect x="334.3" y="529" width="57.7" height="14" fill="#00c8c8"/>
<rect x="392" y="529" width="57.7" height="14" fill="#1e3cff"/>
<rect x="449.7" y="529" width="57" height="14" fill="#e6dc32"/>
<rect x="506.7" y="529" width="57" height="14" fill="#f08228"/>
<polygon points="563.7,529 620,536 563.7,543" fill="#fa3c3c"/>
</g>
<g class="t" font-size="13" text-anchor="middle">
<text x="220.5" y="556">5</text><text x="277.3" y="556">10</text><text x="334.3" y="556">25</text>
<text x="392" y="556">50</text><text x="450" y="556">100</text><text x="507" y="556">150</text>
<text x="564" y="556">300</text>
</g>
<text class="t" x="603" y="557" font-size="14">[mm]</text>
</svg>
</body></html>
